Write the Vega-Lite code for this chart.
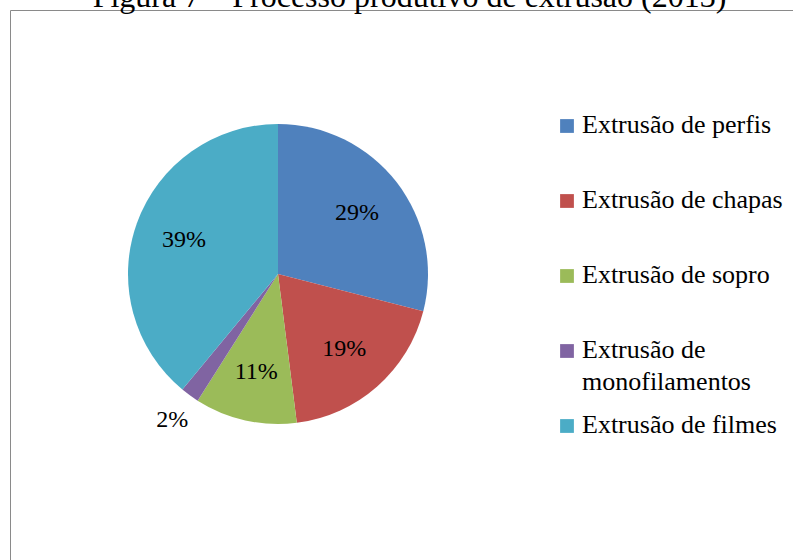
{
  "$schema": "https://vega.github.io/schema/vega-lite/v6.json",
  "autosize": "none",
  "width": 783,
  "height": 550,
  "padding": {"left": 10, "top": 10, "right": 0, "bottom": 0},
  "background": "white",
  "view": {"stroke": "#8a8a8a", "strokeWidth": 1},
  "title": {
    "text": "Figura 7 – Processo produtivo de extrusão (2013)",
    "font": "Liberation Serif",
    "fontSize": 32,
    "fontWeight": "normal",
    "color": "black",
    "anchor": "middle",
    "dx": 8,
    "dy": 4,
    "offset": 0
  },
  "data": {
    "values": [
      {"tipo": "Extrusão de perfis", "valor": 0.29, "ordem": 1},
      {"tipo": "Extrusão de chapas", "valor": 0.19, "ordem": 2},
      {"tipo": "Extrusão de sopro", "valor": 0.11, "ordem": 3},
      {"tipo": "Extrusão de monofilamentos", "valor": 0.02, "ordem": 4},
      {"tipo": "Extrusão de filmes", "valor": 0.39, "ordem": 5}
    ]
  },
  "encoding": {
    "theta": {"field": "valor", "type": "quantitative", "stack": true},
    "order": {"field": "ordem", "type": "ordinal"}
  },
  "layer": [
    {
      "mark": {"type": "arc", "x": 268, "y": 264, "outerRadius": 150},
      "encoding": {
        "color": {
          "field": "tipo",
          "type": "nominal",
          "scale": {
            "domain": ["Extrusão de perfis", "Extrusão de chapas", "Extrusão de sopro", "Extrusão de monofilamentos", "Extrusão de filmes"],
            "range": ["#4F81BD", "#C0504D", "#9BBB59", "#8064A2", "#4BACC6"]
          },
          "legend": {
            "orient": "none",
            "legendX": 544,
            "legendY": 103,
            "title": null,
            "symbolType": "square",
            "symbolSize": 190,
            "symbolStrokeWidth": 0,
            "labelFont": "Liberation Serif",
            "labelFontSize": 26,
            "labelColor": "black",
            "labelOffset": 2,
            "labelLimit": 300,
            "gridAlign": "all",
            "rowPadding": 17,
            "labelExpr": "datum.label == 'Extrusão de monofilamentos' ? ['Extrusão de', 'monofilamentos'] : datum.label",
            "labelBaseline": "top",
            "encode": {"labels": {"update": {"lineHeight": {"value": 32}, "dy": {"value": -14}}}}
          }
        }
      }
    },
    {
      "mark": {
        "type": "text",
        "x": 268,
        "y": 264,
        "radius": {"expr": "datum.valor < 0.05 ? 180 : 100"},
        "font": "Liberation Serif",
        "fontSize": 24,
        "color": "black"
      },
      "encoding": {
        "text": {"field": "valor", "type": "quantitative", "format": ".0%"}
      }
    }
  ]
}
